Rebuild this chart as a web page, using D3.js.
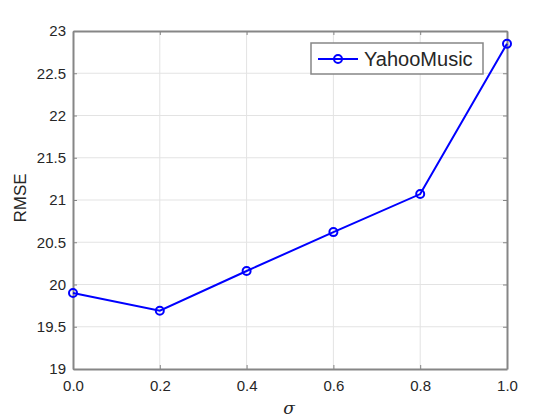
<!DOCTYPE html>
<html>
<head>
<meta charset="utf-8">
<script src="https://cdn.jsdelivr.net/npm/d3@7.9.0/dist/d3.min.js"></script>
<style>
  body { margin: 0; background: #fff; }
  svg { display: block; font-family: Helvetica, Arial, "Liberation Sans", sans-serif; }
</style>
</head>
<body>
<svg id="chart" width="560" height="420"></svg>
<script>
// data
const sigma = [0.0, 0.2, 0.4, 0.6, 0.8, 1.0];
const rmse = [19.9, 19.69, 20.16, 20.62, 21.07, 22.85];
const xTicks = [0.0, 0.2, 0.4, 0.6, 0.8, 1.0];
const yTicks = [19, 19.5, 20, 20.5, 21, 21.5, 22, 22.5, 23];
const seriesName = 'YahooMusic';

const svg = d3.select('#chart');
const plotL = 73, plotR = 507, plotT = 31, plotB = 369;
const axisColor = '#868686';
const textColor = '#262626';

const x = d3.scaleLinear().domain([0, 1]).range([plotL, plotR]);
const y = d3.scaleLinear().domain([19, 23]).range([plotB, plotT]);

// grid
svg.append('g').selectAll('line')
    .data(xTicks.slice(1, -1))
    .join('line')
    .attr('x1', d => x(d)).attr('x2', d => x(d))
    .attr('y1', plotT).attr('y2', plotB)
    .attr('stroke', '#e3e3e3').attr('stroke-width', 1);
svg.append('g').selectAll('line')
    .data(yTicks.slice(1, -1))
    .join('line')
    .attr('x1', plotL).attr('x2', plotR)
    .attr('y1', d => y(d)).attr('y2', d => y(d))
    .attr('stroke', '#e3e3e3').attr('stroke-width', 1);

// axes (inward ticks on all sides, MATLAB style)
const tick = 4;
const xb = svg.append('g').attr('transform', `translate(0,${plotB})`)
    .call(d3.axisBottom(x).tickValues(xTicks).tickFormat(d3.format('.1f')).tickSizeInner(-tick).tickSizeOuter(0).tickPadding(11));
const yl = svg.append('g').attr('transform', `translate(${plotL},0)`)
    .call(d3.axisLeft(y).tickValues(yTicks).tickFormat(d => d).tickSizeInner(-tick).tickSizeOuter(0).tickPadding(7));
const xt = svg.append('g').attr('transform', `translate(0,${plotT})`)
    .call(d3.axisTop(x).tickValues(xTicks).tickFormat('').tickSizeInner(-tick).tickSizeOuter(0));
const yr = svg.append('g').attr('transform', `translate(${plotR},0)`)
    .call(d3.axisRight(y).tickValues(yTicks).tickFormat('').tickSizeInner(-tick).tickSizeOuter(0));

[xb, yl, xt, yr].forEach(g => {
    g.select('.domain').attr('stroke', axisColor).attr('stroke-width', 2);
    g.selectAll('.tick line').attr('stroke', axisColor);
    g.selectAll('text').attr('fill', textColor).style('font-size', '15px')
        .style('font-family', 'Helvetica, Arial, "Liberation Sans", sans-serif');
});

// series
svg.append('path')
    .datum(sigma.map((s, i) => [s, rmse[i]]))
    .attr('fill', 'none')
    .attr('stroke', '#0000ff')
    .attr('stroke-width', 2)
    .attr('d', d3.line().x(d => x(d[0])).y(d => y(d[1])));

svg.append('g').selectAll('circle')
    .data(sigma.map((s, i) => [s, rmse[i]]))
    .join('circle')
    .attr('cx', d => x(d[0])).attr('cy', d => y(d[1]))
    .attr('r', 4)
    .attr('fill', 'none')
    .attr('stroke', '#0000ff')
    .attr('stroke-width', 2);

// labels
svg.append('text')
    .attr('x', (plotL + plotR) / 2 - 1).attr('y', 414)
    .attr('text-anchor', 'middle')
    .attr('fill', textColor)
    .style('font-family', '"DejaVu Serif", "Liberation Serif", serif')
    .style('font-style', 'italic')
    .style('font-size', '17px')
    .text('σ');

svg.append('text')
    .attr('transform', `translate(26,${(plotT + plotB) / 2 - 2}) rotate(-90)`)
    .attr('text-anchor', 'middle')
    .attr('fill', textColor)
    .style('font-size', '17px')
    .text('RMSE');

// legend
const lg = svg.append('g').attr('transform', 'translate(311,43)');
lg.append('rect')
    .attr('width', 172).attr('height', 31)
    .attr('fill', '#fff').attr('stroke', axisColor).attr('stroke-width', 1.5);
lg.append('line')
    .attr('x1', 7).attr('x2', 47).attr('y1', 16).attr('y2', 16)
    .attr('stroke', '#0000ff').attr('stroke-width', 2);
lg.append('circle')
    .attr('cx', 27).attr('cy', 16).attr('r', 4)
    .attr('fill', 'none').attr('stroke', '#0000ff').attr('stroke-width', 2);
lg.append('text')
    .attr('x', 53).attr('y', 23)
    .attr('fill', textColor)
    .style('font-size', '20px')
    .text(seriesName);
</script>
</body>
</html>
